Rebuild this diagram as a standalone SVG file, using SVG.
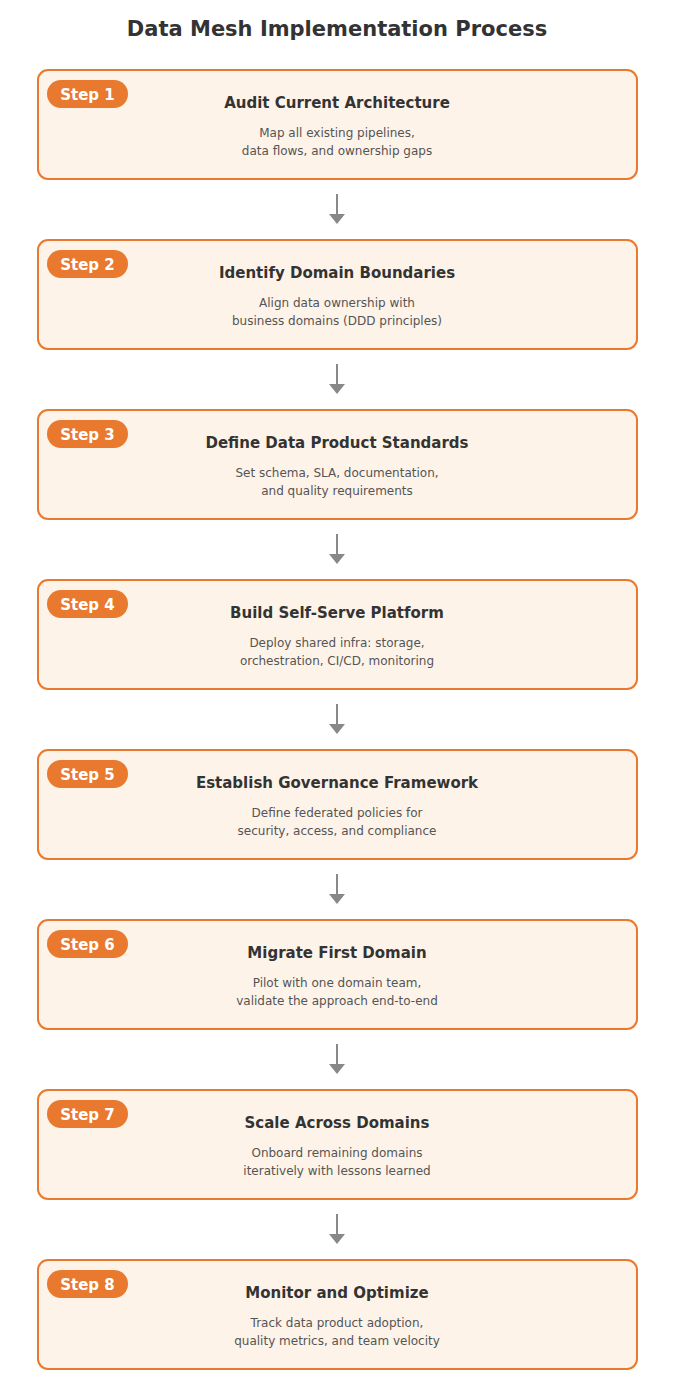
<svg xmlns="http://www.w3.org/2000/svg" width="690" height="1384" viewBox="0 0 690 1384">
<style>
text{font-family:"DejaVu Sans",sans-serif;text-anchor:middle}
.box{fill:#fef3e8;stroke:#e8792f;stroke-width:2}
.badge{fill:#e8792f}
.st{fill:#fff;font-size:15px;font-weight:bold}
.t{fill:#333;font-size:15px;font-weight:bold}
.d{fill:#555;font-size:12px}
.c{stroke:#888;stroke-width:2}
</style>
<defs><marker id="a" markerWidth="8" markerHeight="6" refX="0" refY="3" orient="auto" markerUnits="userSpaceOnUse" viewBox="0 0 8 6"><path d="M0,0L8,3L0,6z" fill="#888"/></marker>
<path id="arr" d="M0,0V20" /></defs>
<rect width="690" height="1384" fill="#fff"/>
<text x="337" y="36" style="font-size:21px;font-weight:bold;fill:#333">Data Mesh Implementation Process</text>
<g id="connectors">
<g fill="#888"><path class="c" d="M337,194V216"/><path d="M329,214H345L337,224Z"/>
<path class="c" d="M337,364V386"/><path d="M329,384H345L337,394Z"/>
<path class="c" d="M337,534V556"/><path d="M329,554H345L337,564Z"/>
<path class="c" d="M337,704V726"/><path d="M329,724H345L337,734Z"/>
<path class="c" d="M337,874V896"/><path d="M329,894H345L337,904Z"/>
<path class="c" d="M337,1044V1066"/><path d="M329,1064H345L337,1074Z"/>
<path class="c" d="M337,1214V1236"/><path d="M329,1234H345L337,1244Z"/></g>
</g>
<g id="step1" transform="translate(0,0)"><rect class="box" x="38" y="70" width="599" height="109" rx="10"/><rect class="badge" x="47" y="80" width="81" height="28" rx="14"/><text class="st" x="87.5" y="100">Step 1</text><text class="t" x="337" y="108">Audit Current Architecture</text><text class="d" x="337" y="137">Map all existing pipelines,</text><text class="d" x="337" y="155">data flows, and ownership gaps</text></g>
<g id="step2" transform="translate(0,170)"><rect class="box" x="38" y="70" width="599" height="109" rx="10"/><rect class="badge" x="47" y="80" width="81" height="28" rx="14"/><text class="st" x="87.5" y="100">Step 2</text><text class="t" x="337" y="108">Identify Domain Boundaries</text><text class="d" x="337" y="137">Align data ownership with</text><text class="d" x="337" y="155">business domains (DDD principles)</text></g>
<g id="step3" transform="translate(0,340)"><rect class="box" x="38" y="70" width="599" height="109" rx="10"/><rect class="badge" x="47" y="80" width="81" height="28" rx="14"/><text class="st" x="87.5" y="100">Step 3</text><text class="t" x="337" y="108">Define Data Product Standards</text><text class="d" x="337" y="137">Set schema, SLA, documentation,</text><text class="d" x="337" y="155">and quality requirements</text></g>
<g id="step4" transform="translate(0,510)"><rect class="box" x="38" y="70" width="599" height="109" rx="10"/><rect class="badge" x="47" y="80" width="81" height="28" rx="14"/><text class="st" x="87.5" y="100">Step 4</text><text class="t" x="337" y="108">Build Self-Serve Platform</text><text class="d" x="337" y="137">Deploy shared infra: storage,</text><text class="d" x="337" y="155">orchestration, CI/CD, monitoring</text></g>
<g id="step5" transform="translate(0,680)"><rect class="box" x="38" y="70" width="599" height="109" rx="10"/><rect class="badge" x="47" y="80" width="81" height="28" rx="14"/><text class="st" x="87.5" y="100">Step 5</text><text class="t" x="337" y="108">Establish Governance Framework</text><text class="d" x="337" y="137">Define federated policies for</text><text class="d" x="337" y="155">security, access, and compliance</text></g>
<g id="step6" transform="translate(0,850)"><rect class="box" x="38" y="70" width="599" height="109" rx="10"/><rect class="badge" x="47" y="80" width="81" height="28" rx="14"/><text class="st" x="87.5" y="100">Step 6</text><text class="t" x="337" y="108">Migrate First Domain</text><text class="d" x="337" y="137">Pilot with one domain team,</text><text class="d" x="337" y="155">validate the approach end-to-end</text></g>
<g id="step7" transform="translate(0,1020)"><rect class="box" x="38" y="70" width="599" height="109" rx="10"/><rect class="badge" x="47" y="80" width="81" height="28" rx="14"/><text class="st" x="87.5" y="100">Step 7</text><text class="t" x="337" y="108">Scale Across Domains</text><text class="d" x="337" y="137">Onboard remaining domains</text><text class="d" x="337" y="155">iteratively with lessons learned</text></g>
<g id="step8" transform="translate(0,1190)"><rect class="box" x="38" y="70" width="599" height="109" rx="10"/><rect class="badge" x="47" y="80" width="81" height="28" rx="14"/><text class="st" x="87.5" y="100">Step 8</text><text class="t" x="337" y="108">Monitor and Optimize</text><text class="d" x="337" y="137">Track data product adoption,</text><text class="d" x="337" y="155">quality metrics, and team velocity</text></g>
</svg>
